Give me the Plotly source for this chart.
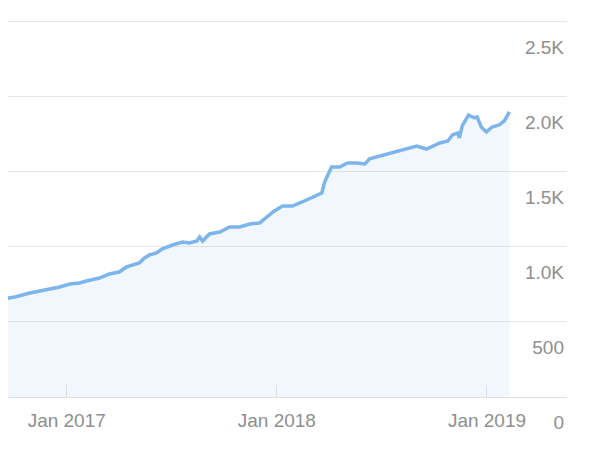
import plotly.graph_objects as go

dates = [
    "2016-09-12", "2016-10-03", "2016-10-29", "2016-11-15", "2016-12-03",
    "2016-12-20", "2017-01-06", "2017-01-23", "2017-02-04",
    "2017-02-27", "2017-03-16", "2017-04-02", "2017-04-15", "2017-05-07",
    "2017-05-16", "2017-05-25", "2017-06-06", "2017-06-16", "2017-07-04",
    "2017-07-21", "2017-08-02", "2017-08-15", "2017-08-20", "2017-08-25",
    "2017-09-06", "2017-09-24", "2017-10-11", "2017-10-28", "2017-11-15",
    "2017-12-02", "2017-12-19", "2017-12-25", "2018-01-11", "2018-01-28",
    "2018-02-14", "2018-03-04", "2018-03-20", "2018-03-25", "2018-04-06",
    "2018-04-20", "2018-05-04", "2018-05-20", "2018-06-03", "2018-06-11",
    "2018-06-29", "2018-07-21", "2018-08-08", "2018-09-01", "2018-09-18",
    "2018-10-11", "2018-10-25", "2018-11-02", "2018-11-11", "2018-11-14",
    "2018-11-19", "2018-11-30", "2018-12-10", "2018-12-15", "2018-12-22",
    "2018-12-31", "2019-01-10", "2019-01-22", "2019-01-31", "2019-02-09",
]
values = [
    653, 667, 693, 707, 720,
    733, 753, 760, 773,
    793, 820, 833, 867, 893,
    927, 947, 960, 987, 1013,
    1033, 1027, 1040, 1067, 1040,
    1087, 1100, 1133, 1133, 1153,
    1160, 1213, 1233, 1273, 1273,
    1300, 1333, 1360, 1433, 1533,
    1533, 1560, 1560, 1553, 1587,
    1607, 1627, 1647, 1673, 1653,
    1693, 1707, 1747, 1760, 1727,
    1807, 1880, 1860, 1867, 1800,
    1767, 1800, 1813, 1840, 1900,
]

x_ticks = ["2017-01-01", "2018-01-01", "2019-01-01"]
x_tick_text = ["Jan 2017", "Jan 2018", "Jan 2019"]
y_ticks = [0, 500, 1000, 1500, 2000, 2500]
y_tick_text = ["0", "500", "1.0K", "1.5K", "2.0K", "2.5K"]

label_font = dict(family="Liberation Sans, Arial, sans-serif", size=19, color="#8e8e8e")

fig = go.Figure()
fig.add_trace(go.Scatter(
    x=dates, y=values, mode="lines",
    line=dict(color="#7cb5ec", width=3.5),
    fill="tozeroy", fillcolor="rgba(124,181,236,0.1)",
    hoverinfo="skip",
))

# page body has an 8px margin, so margins are trimmed to compensate
fig.update_layout(
    width=596, height=465,
    margin=dict(l=0, r=37, t=12, b=76),
    paper_bgcolor="white", plot_bgcolor="white",
    showlegend=False,
    xaxis=dict(
        range=["2016-09-21", "2019-05-20"],
        tickvals=x_ticks, ticktext=x_tick_text,
        ticks="inside", ticklen=12, tickcolor="#d8dde6", tickwidth=1,
        showgrid=False, zeroline=False,
        showline=True, linecolor="#dfe2e8", linewidth=1,
        tickfont=label_font, ticklabelstandoff=6,
        automargin=False,
    ),
    yaxis=dict(
        range=[0, 2513], side="right",
        tickvals=y_ticks, ticktext=y_tick_text,
        ticklabelposition="inside", ticklabeloverflow="allow",
        ticklabelshift=25,
        showgrid=True, gridcolor="#e6e6e6", gridwidth=1,
        zeroline=False, ticks="",
        tickfont=label_font,
        automargin=False,
    ),
)

fig.write_html("out.html")
